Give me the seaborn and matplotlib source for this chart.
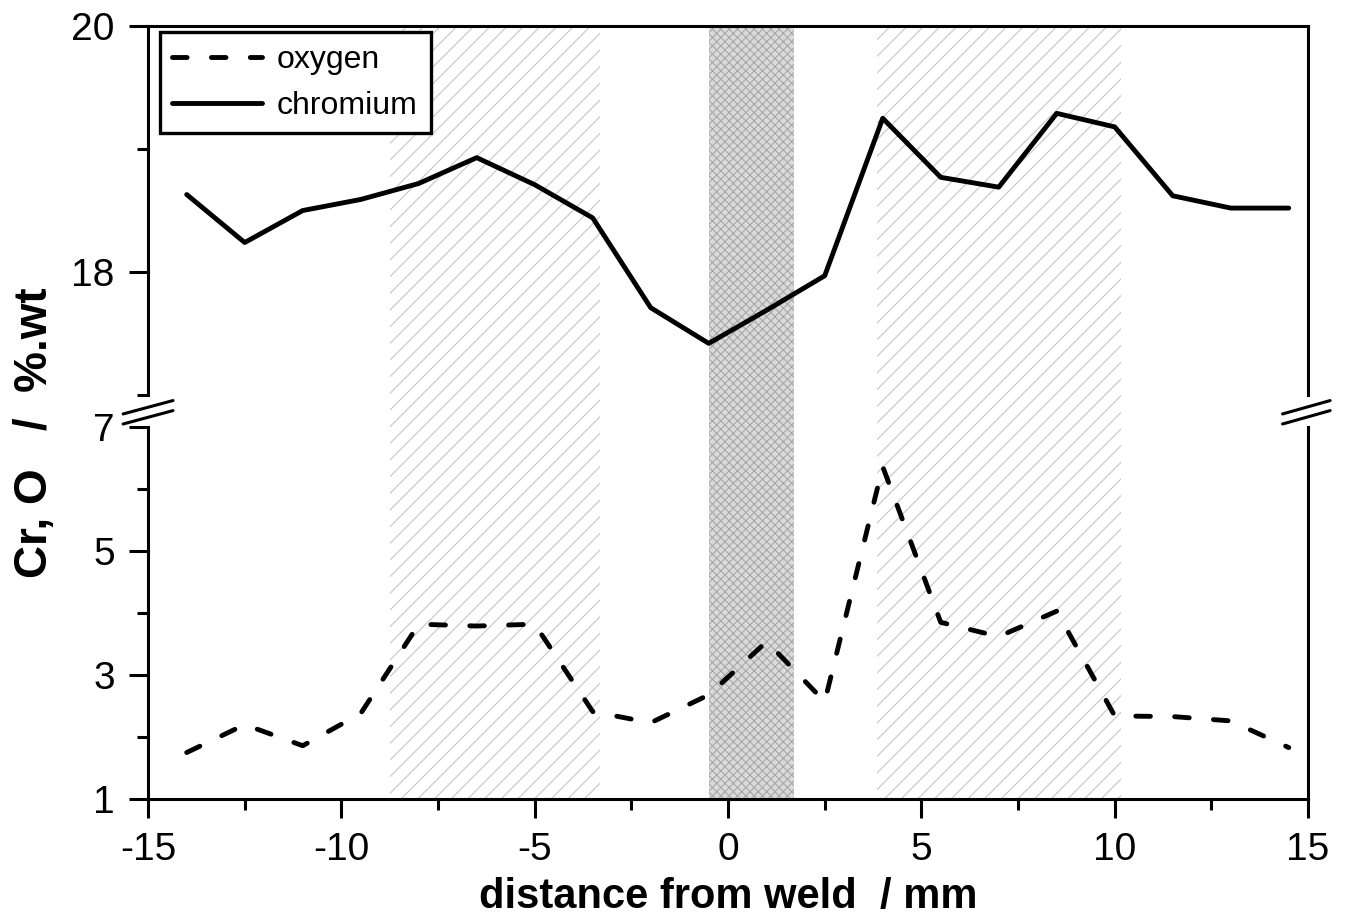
import numpy as np
import matplotlib
matplotlib.use("Agg")
import matplotlib.pyplot as plt
import seaborn as sns
from matplotlib.ticker import MultipleLocator, FixedLocator

# data
distance = [-14, -12.5, -11, -9.5, -8, -6.5, -5, -3.5, -2, -0.5,
            1, 2.5, 4, 5.5, 7, 8.5, 10, 11.5, 13, 14.5]
chromium = [18.63, 18.24, 18.50, 18.59, 18.72, 18.93, 18.71, 18.44, 17.71, 17.42,
            17.69, 17.97, 19.25, 18.77, 18.69, 19.29, 19.18, 18.62, 18.52, 18.52]
oxygen = [1.75, 2.20, 1.86, 2.38, 3.82, 3.79, 3.82, 2.41, 2.23, 2.68,
          3.54, 2.57, 6.36, 3.85, 3.62, 4.03, 2.34, 2.33, 2.26, 1.83]
haz_zones = [(-8.75, -3.3), (3.85, 10.15)]
weld_zone = (-0.5, 1.7)

sns.set_style("ticks")
plt.rcParams["font.family"] = ["Liberation Sans", "DejaVu Sans"]
plt.rcParams["hatch.linewidth"] = 0.8
plt.rcParams["axes.unicode_minus"] = False
plt.rcParams["text.color"] = "black"
plt.rcParams["axes.labelcolor"] = "black"

fig = plt.figure(figsize=(13.47, 9.23), dpi=100)
ax_top = fig.add_axes([0.1099, 0.5720, 0.8612, 0.3998])
ax_bot = fig.add_axes([0.1099, 0.1343, 0.8612, 0.4031])
ax_top.patch.set_visible(False)
ax_top.set_zorder(2)

# shaded zones run through both panels
span_top = 2.078
for a, b in haz_zones:
    ax_bot.axvspan(a, b, ymin=0, ymax=span_top, facecolor="white", edgecolor="#c6c6c6",
                   hatch="//", linewidth=0, zorder=0, clip_on=False)
ax_bot.axvspan(*weld_zone, ymin=0, ymax=span_top, facecolor="#dadada",
               edgecolor="#a8a8a8", hatch="xxxx", linewidth=0, zorder=0, clip_on=False)

for ax in (ax_top, ax_bot):
    ax.set_xlim(-15, 15)
    ax.xaxis.set_major_locator(MultipleLocator(5))
    ax.xaxis.set_minor_locator(MultipleLocator(2.5))
    ax.tick_params(which="major", direction="out", length=14, width=2.2,
                   labelsize=28, pad=10, color="black", labelcolor="black")
    ax.tick_params(which="minor", direction="out", length=8, width=2.2, color="black")
    for s in ax.spines.values():
        s.set_linewidth(2.2)
        s.set_color("black")

sns.lineplot(x=distance, y=chromium, ax=ax_top, color="black", linewidth=3.5,
             label="chromium")
sns.lineplot(x=distance, y=oxygen, ax=ax_bot, color="black", linewidth=3.5,
             linestyle=(0, (3.0, 5.0)), dash_capstyle="round", label="oxygen")

ax_top.set_ylim(17, 20)
ax_top.yaxis.set_major_locator(FixedLocator([18, 20]))
ax_top.yaxis.set_minor_locator(FixedLocator([17, 19]))
ax_top.spines["bottom"].set_visible(False)
ax_top.tick_params(axis="x", which="both", bottom=False, labelbottom=False)

ax_bot.set_ylim(1, 7)
ax_bot.yaxis.set_major_locator(FixedLocator([1, 3, 5, 7]))
ax_bot.yaxis.set_minor_locator(FixedLocator([2, 4, 6]))
ax_bot.spines["top"].set_visible(False)

# axis break marks
for x0, x1 in [(-0.0215, 0.0215), (0.978, 1.019)]:
    for y0 in (1.035, 1.008):
        ax_bot.plot([x0, x1], [y0, y0 + 0.036], transform=ax_bot.transAxes,
                    color="black", linewidth=2.2, clip_on=False)

# legend with both lines in the top panel
h_top, l_top = ax_top.get_legend_handles_labels()
h_bot, l_bot = ax_bot.get_legend_handles_labels()
ax_bot.get_legend().remove()
leg = ax_top.legend(h_bot + h_top, l_bot + l_top, loc="upper left",
                    bbox_to_anchor=(0.010, 0.984), fontsize=23, frameon=True,
                    fancybox=False, framealpha=1, edgecolor="black",
                    handlelength=2.8, borderpad=0.4, labelspacing=0.5,
                    handletextpad=0.47, borderaxespad=0)
leg.get_frame().set_linewidth(2.4)

ax_bot.set_xlabel("distance from weld  / mm", fontsize=30, fontweight="bold",
                  labelpad=6)
ax_bot.set_ylabel("")
ax_top.set_ylabel("")
fig.text(0.026, 0.531, "Cr, O   /  %.wt", rotation=90, fontsize=33,
         fontweight="bold", ha="center", va="center")

fig.savefig("out.png", dpi=100)
